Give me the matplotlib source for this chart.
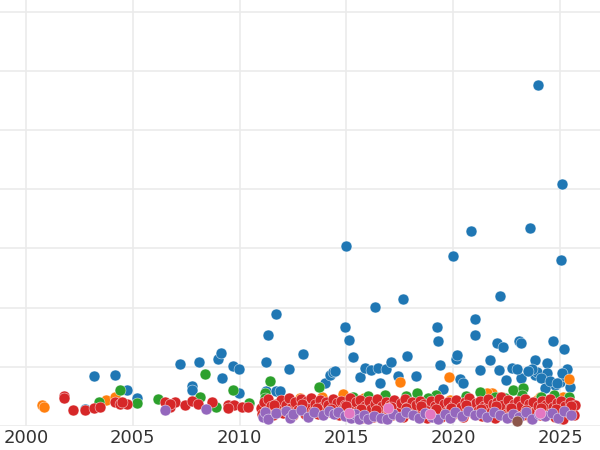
import matplotlib
matplotlib.use("Agg")
import matplotlib.pyplot as plt

# ---- data (year, value) ----
blue_x = [2003.18, 2004.17, 2004.73, 2005.20, 2002.76, 2007.21, 2007.77, 2007.77, 2008.10, 2008.99,
          2009.13, 2009.18, 2009.69, 2009.97, 2009.97, 2011.24, 2011.33, 2011.70, 2012.31, 2012.97,
          2011.24, 2011.70, 2011.89, 2014.00, 2014.23, 2014.37, 2014.47, 2014.98, 2014.93, 2015.12,
          2015.31, 2015.64, 2015.87, 2016.15, 2016.34, 2016.48, 2016.85, 2017.09, 2017.65, 2017.84,
          2018.26, 2017.42, 2016.57, 2019.24, 2019.29, 2019.38, 2019.52, 2019.99, 2020.13, 2020.18,
          2020.32, 2020.46, 2020.83, 2021.02, 2021.02, 2021.25, 2021.72, 2022.05, 2022.19, 2022.33,
          2022.14, 2022.47, 2022.75, 2023.08, 2023.17, 2023.17, 2023.60, 2023.83, 2023.83, 2023.92,
          2023.97, 2024.39, 2024.39, 2024.67, 2024.77, 2025.00, 2025.05, 2025.09, 2025.19, 2025.23,
          2025.33, 2025.47, 2024.30, 2023.69, 2024.11, 2022.99, 2023.50, 2024.55, 2025.10, 2024.85]
blue_y = [0.84, 0.86, 0.61, 0.47, 0.29, 1.05, 0.68, 0.61, 1.08, 1.13,
          1.23, 0.81, 1.01, 0.96, 0.56, 1.08, 1.54, 1.89, 0.96, 1.22,
          0.59, 0.59, 0.59, 0.73, 0.86, 0.91, 0.93, 3.04, 1.67, 1.45,
          1.17, 0.83, 0.98, 0.95, 2.01, 0.98, 0.96, 1.08, 2.15, 1.18,
          0.84, 0.84, 0.73, 1.67, 1.44, 1.03, 0.63, 2.87, 1.13, 1.20,
          0.79, 0.73, 3.29, 1.81, 1.54, 0.95, 1.11, 1.40, 2.20, 1.33,
          0.95, 0.78, 0.98, 1.44, 1.40, 0.81, 3.34, 1.11, 0.86, 0.91,
          5.76, 1.06, 0.90, 1.44, 0.69, 0.74, 2.80, 4.09, 1.30, 0.84,
          0.96, 0.66, 0.64, 0.96, 0.81, 0.96, 0.93, 0.76, 0.90, 0.72]

orange_x = [2000.75, 2000.84, 2003.75, 2004.17, 2012.83, 2013.86, 2014.84, 2015.82, 2017.51, 2019.80,
            2019.85, 2021.82, 2022.14, 2022.28, 2023.92, 2024.06, 2025.14, 2025.42, 2025.33, 2021.60]
orange_y = [0.35, 0.32, 0.44, 0.49, 0.47, 0.49, 0.54, 0.47, 0.74, 0.83,
            0.44, 0.56, 0.49, 0.49, 0.44, 0.49, 0.49, 0.79, 0.38, 0.56]

green_x = [2003.42, 2004.40, 2005.20, 2006.18, 2008.40, 2008.90, 2009.69, 2010.44, 2008.15, 2011.19,
           2011.19, 2011.42, 2013.72, 2015.31, 2016.81, 2017.79, 2018.31, 2019.19, 2021.25, 2021.94,
           2022.80, 2023.27, 2023.22, 2024.11, 2024.72, 2025.42, 2016.00, 2018.80, 2020.60, 2022.40]
green_y = [0.41, 0.61, 0.39, 0.46, 0.88, 0.32, 0.61, 0.39, 0.49, 0.56,
           0.47, 0.76, 0.66, 0.49, 0.52, 0.51, 0.56, 0.52, 0.57, 0.49,
           0.61, 0.64, 0.52, 0.49, 0.52, 0.49, 0.50, 0.48, 0.50, 0.47]

red_x = [2001.78, 2001.78, 2002.20, 2002.76, 2003.18, 2003.46, 2004.17, 2004.40, 2004.73, 2004.50,
         2006.50, 2006.74, 2006.97, 2007.44, 2007.77, 2008.05, 2008.71, 2009.46, 2009.74, 2010.11,
         2010.39, 2006.74, 2009.46,
         2011.00, 2011.05, 2011.15, 2011.25, 2011.35, 2011.45, 2011.55, 2011.70, 2011.85, 2011.95,
         2012.05, 2012.15, 2012.30, 2012.40, 2012.50, 2012.60, 2012.75, 2012.85, 2012.95, 2013.05,
         2013.15, 2013.25, 2013.35, 2013.45, 2013.55, 2013.65, 2013.75, 2013.85, 2013.95, 2014.05,
         2014.15, 2014.25, 2014.35, 2014.45, 2014.55, 2014.65, 2014.75, 2014.85, 2014.95, 2015.05,
         2015.15, 2015.25, 2015.35, 2015.45, 2015.55, 2015.65, 2015.75, 2015.85, 2015.95, 2016.05,
         2016.15, 2016.25, 2016.35, 2016.45, 2016.55, 2016.65, 2016.75, 2016.85, 2016.95, 2017.05,
         2017.15, 2017.25, 2017.35, 2017.45, 2017.55, 2017.65, 2017.75, 2017.85, 2017.95, 2018.05,
         2018.15, 2018.25, 2018.35, 2018.45, 2018.55, 2018.65, 2018.75, 2018.85, 2018.95, 2019.05,
         2019.15, 2019.25, 2019.35, 2019.45, 2019.55, 2019.65, 2019.75, 2019.85, 2019.95, 2020.05,
         2020.15, 2020.25, 2020.35, 2020.45, 2020.55, 2020.65, 2020.75, 2020.85, 2020.95, 2021.05,
         2021.15, 2021.25, 2021.35, 2021.45, 2021.55, 2021.65, 2021.75, 2021.85, 2021.95, 2022.05,
         2022.15, 2022.25, 2022.35, 2022.45, 2022.55, 2022.65, 2022.75, 2022.85, 2022.95, 2023.05,
         2023.15, 2023.25, 2023.35, 2023.45, 2023.55, 2023.65, 2023.75, 2023.85, 2023.95, 2024.05,
         2024.15, 2024.25, 2024.35, 2024.45, 2024.55, 2024.65, 2024.75, 2024.85, 2024.95, 2025.05,
         2025.15, 2025.25, 2025.35, 2025.45, 2025.55, 2025.65, 2025.70,
         2011.60, 2012.20, 2012.90, 2013.60, 2014.30, 2015.00, 2015.70, 2016.40, 2017.10, 2017.80,
         2018.50, 2019.20, 2019.90, 2020.60, 2021.30, 2022.00, 2022.70, 2023.40, 2024.10, 2024.80,
         2025.50]
red_y = [0.51, 0.47, 0.27, 0.27, 0.30, 0.32, 0.41, 0.37, 0.37, 0.40,
         0.41, 0.32, 0.41, 0.35, 0.42, 0.37, 0.41, 0.35, 0.35, 0.32,
         0.32, 0.37, 0.30,
         0.30, 0.20, 0.40, 0.25, 0.45, 0.33, 0.18, 0.38, 0.28, 0.44,
         0.22, 0.35, 0.47, 0.30, 0.19, 0.40, 0.27, 0.45, 0.33, 0.21,
         0.42, 0.30, 0.48, 0.25, 0.37, 0.20, 0.44, 0.32, 0.26, 0.41,
         0.35, 0.23, 0.46, 0.30, 0.39, 0.19, 0.43, 0.28, 0.36, 0.22,
         0.47, 0.31, 0.17, 0.40, 0.26, 0.44, 0.14, 0.34, 0.23, 0.42,
         0.29, 0.16, 0.38, 0.45, 0.21, 0.33, 0.13, 0.41, 0.27, 0.36,
         0.18, 0.44, 0.30, 0.24, 0.39, 0.15, 0.46, 0.32, 0.22, 0.40,
         0.28, 0.35, 0.17, 0.43, 0.25, 0.37, 0.14, 0.31, 0.42, 0.20,
         0.34, 0.27, 0.45, 0.16, 0.38, 0.24, 0.41, 0.29, 0.19, 0.36,
         0.44, 0.22, 0.32, 0.15, 0.40, 0.27, 0.47, 0.34, 0.21, 0.39,
         0.26, 0.43, 0.17, 0.33, 0.30, 0.45, 0.23, 0.37, 0.13, 0.41,
         0.28, 0.49, 0.35, 0.20, 0.44, 0.31, 0.16, 0.38, 0.25, 0.42,
         0.33, 0.19, 0.46, 0.28, 0.37, 0.14, 0.40, 0.24, 0.34, 0.18,
         0.43, 0.29, 0.36, 0.21, 0.45, 0.32, 0.15, 0.39, 0.26, 0.42,
         0.12, 0.34, 0.23, 0.40, 0.29, 0.18, 0.36,
         0.36, 0.26, 0.38, 0.31, 0.28, 0.34, 0.29, 0.27, 0.32, 0.30,
         0.33, 0.29, 0.31, 0.35, 0.28, 0.33, 0.30, 0.27, 0.31, 0.29,
         0.33]

purple_x = [2006.50, 2008.43,
            2011.10, 2011.20, 2011.35, 2011.70, 2012.15, 2012.35, 2012.50, 2012.85, 2013.20, 2013.50,
            2013.90, 2014.20, 2014.40, 2014.60, 2014.95, 2015.20, 2015.40, 2015.60, 2015.80, 2016.00,
            2016.30, 2016.60, 2016.90, 2017.20, 2017.50, 2017.80, 2018.10, 2018.40, 2018.70, 2019.00,
            2019.30, 2019.60, 2019.85, 2020.10, 2020.40, 2020.70, 2021.00, 2021.30, 2021.60, 2021.90,
            2022.20, 2022.50, 2022.80, 2023.10, 2023.40, 2023.70, 2024.00, 2024.30, 2024.60, 2024.90,
            2025.20, 2025.50]
purple_y = [0.27, 0.29,
            0.16, 0.24, 0.12, 0.22, 0.25, 0.14, 0.20, 0.27, 0.16, 0.23,
            0.18, 0.26, 0.21, 0.24, 0.17, 0.13, 0.20, 0.12, 0.19, 0.11,
            0.17, 0.14, 0.12, 0.21, 0.15, 0.24, 0.18, 0.13, 0.22, 0.16,
            0.12, 0.20, 0.14, 0.23, 0.17, 0.26, 0.19, 0.22, 0.15, 0.24,
            0.18, 0.13, 0.21, 0.16, 0.24, 0.12, 0.20, 0.17, 0.22, 0.14,
            0.25, 0.18]

brown_x = [2022.99]
brown_y = [0.08]

pink_x = [2015.12, 2016.95, 2018.90, 2024.06]
pink_y = [0.22, 0.31, 0.20, 0.22]

series = [
    (blue_x, blue_y, "#1f77b4"),
    (orange_x, orange_y, "#ff7f0e"),
    (green_x, green_y, "#2ca02c"),
    (red_x, red_y, "#d62728"),
    (purple_x, purple_y, "#9467bd"),
    (brown_x, brown_y, "#8c564b"),
    (pink_x, pink_y, "#e377c2"),
]

x_ticks = [2000, 2005, 2010, 2015, 2020, 2025]

fig = plt.figure(figsize=(6, 4.5), dpi=100)
ax = fig.add_axes([0, 24 / 450, 1, 426 / 450])
for xs, ys, c in series:
    ax.scatter(xs, ys, s=62, color=c, edgecolors="white", linewidths=0.3, zorder=3)

ax.set_xlim(1998.783, 2026.87)
ax.set_ylim(0.0, 7.196)
ax.set_xticks(x_ticks)
ax.set_xticklabels([str(t) for t in x_ticks])
ax.set_yticks(range(0, 8))
ax.set_yticklabels([])
ax.tick_params(axis="both", length=0, labelsize=13, labelcolor="#333333", pad=2)
ax.grid(True, color="#ebebeb", linewidth=1.2, zorder=0)
ax.set_axisbelow(True)
for sp in ax.spines.values():
    sp.set_visible(False)

fig.savefig("out.png", dpi=100)
